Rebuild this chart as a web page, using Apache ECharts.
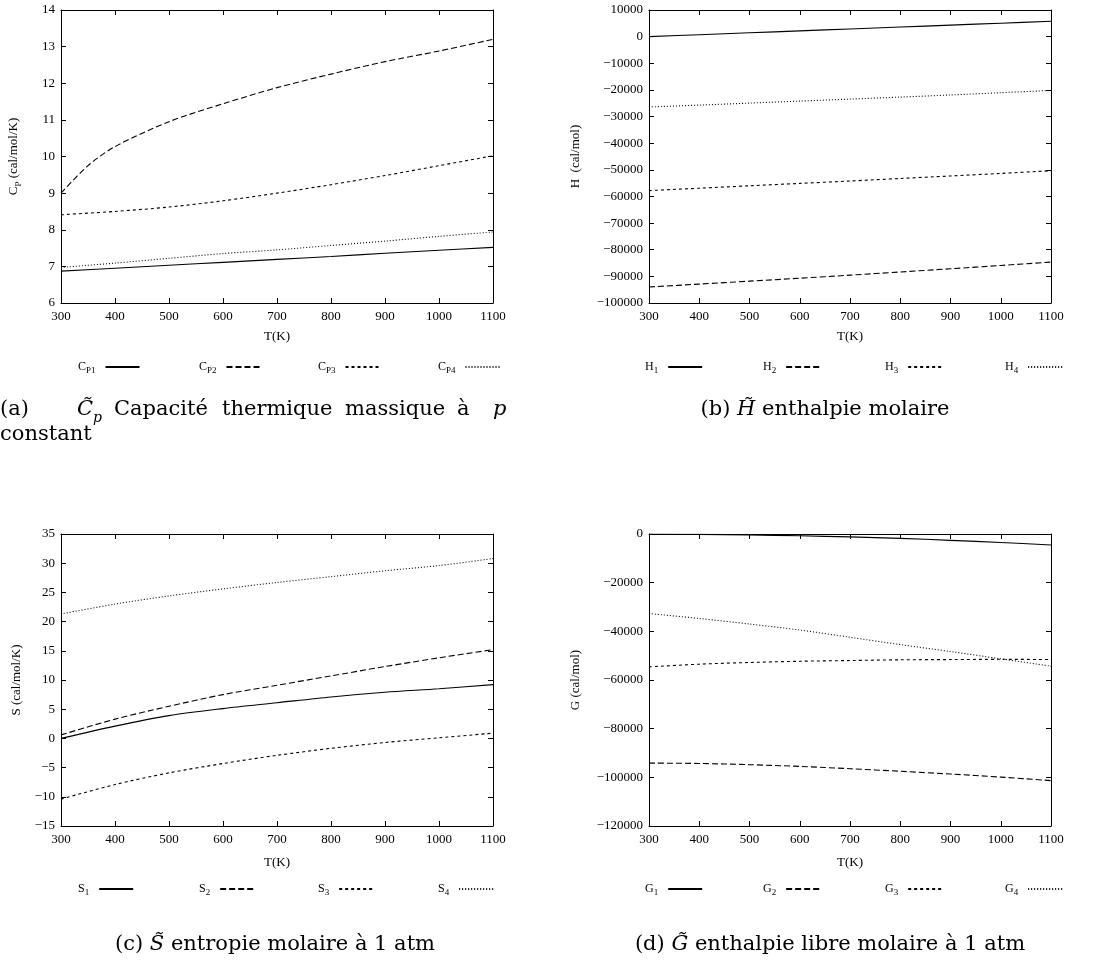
<!DOCTYPE html>
<html lang="fr">
<head>
    <meta charset="UTF-8">
    <title>Propriétés thermodynamiques</title>
    <style>
        html, body {margin: 0; padding: 0; background: #fff;}
        #main {width: 1100px; height: 970px;}
    </style>
    <script src="https://cdn.jsdelivr.net/npm/echarts@6/dist/echarts.min.js"></script>
</head>
<body>
<div id="main"></div>
<script>
    // temperatures (K)
    var temps = [300, 400, 500, 600, 700, 800, 900, 1000, 1100];
    var tempsCp2 = [300, 350, 400, 500, 600, 700, 800, 900, 1000, 1100];

    // (a) Cp, cal/mol/K
    var cp1 = [6.87, 6.95, 7.03, 7.11, 7.19, 7.27, 7.36, 7.44, 7.52];
    var cp2 = [9.0, 9.75, 10.27, 10.95, 11.44, 11.88, 12.25, 12.59, 12.88, 13.2];
    var cp3 = [8.41, 8.5, 8.62, 8.79, 9.0, 9.23, 9.48, 9.75, 10.02];
    var cp4 = [6.97, 7.09, 7.22, 7.35, 7.45, 7.57, 7.69, 7.82, 7.94];

    // (b) H, cal/mol
    var h1 = [0, 720, 1440, 2160, 2880, 3600, 4320, 5040, 5760];
    var h2 = [-94000, -92900, -91800, -90700, -89550, -88350, -87150, -85900, -84650];
    var h3 = [-57800, -56900, -56000, -55100, -54200, -53250, -52300, -51350, -50350];
    var h4 = [-26400, -25700, -24950, -24200, -23450, -22700, -21900, -21050, -20200];

    // (c) S, cal/mol/K
    var s1 = [0, 2.1, 3.9, 5.1, 6.1, 7.1, 7.9, 8.5, 9.2];
    var s2 = [0.6, 3.3, 5.5, 7.5, 9.1, 10.7, 12.3, 13.8, 15.2];
    var s3 = [-10.4, -7.9, -5.9, -4.3, -2.9, -1.7, -0.7, 0.1, 0.9];
    var s4 = [21.3, 23.0, 24.4, 25.6, 26.7, 27.7, 28.7, 29.6, 30.8];

    // (d) G, cal/mol
    var g1 = [0, -150, -400, -750, -1200, -1800, -2600, -3500, -4500];
    var g2 = [-94150, -94300, -94800, -95500, -96450, -97500, -98650, -99900, -101350];
    var g3 = [-54600, -53500, -52800, -52300, -52000, -51700, -51600, -51500, -51600];
    var g4 = [-32700, -34700, -37000, -39460, -42450, -45440, -48300, -51300, -54300];

    // axis ranges
    var yRanges = [
        {min: 6, max: 14, interval: 1},
        {min: -100000, max: 10000, interval: 10000},
        {min: -15, max: 35, interval: 5},
        {min: -120000, max: 0, interval: 20000}
    ];
    var yNames = ['{c|C}{s|P} (cal/mol/K)', 'H  (cal/mol)', 'S (cal/mol/K)', 'G (cal/mol)'];
    var legendNames = [
        ['Cp1', 'Cp2', 'Cp3', 'Cp4'],
        ['H1', 'H2', 'H3', 'H4'],
        ['S1', 'S2', 'S3', 'S4'],
        ['G1', 'G2', 'G3', 'G4']
    ];
    var legendLabels = {
        Cp1: '{c|C}{s|P1}', Cp2: '{c|C}{s|P2}', Cp3: '{c|C}{s|P3}', Cp4: '{c|C}{s|P4}',
        H1: '{c|H}{s|1}', H2: '{c|H}{s|2}', H3: '{c|H}{s|3}', H4: '{c|H}{s|4}',
        S1: '{c|S}{s|1}', S2: '{c|S}{s|2}', S3: '{c|S}{s|3}', S4: '{c|S}{s|4}',
        G1: '{c|G}{s|1}', G2: '{c|G}{s|2}', G3: '{c|G}{s|3}', G4: '{c|G}{s|4}'
    };

    var FONT = 'Liberation Serif';
    var CAP = 'DejaVu Serif';
    var CAP_SIZE = 21;
    var dashes = ['solid', [6, 3], [3, 3], [1, 2]];

    var grids = [
        {left: 61, top: 10, width: 432, height: 293},
        {left: 649, top: 10, width: 402, height: 293},
        {left: 61, top: 534, width: 432, height: 292},
        {left: 649, top: 534, width: 402, height: 292}
    ];
    var nameGaps = [38, 67, 38, 67];
    var xNameGaps = [27, 27, 30, 30];
    var legendTops = [361, 361, 883, 883];
    var legendLefts = [
        [78, 199, 318, 438],
        [645, 763, 885, 1005],
        [78, 199, 318, 438],
        [645, 763, 885, 1005]
    ];

    var rich = {
        c: {fontFamily: FONT, fontSize: 12, lineHeight: 16, verticalAlign: 'middle', color: '#000'},
        s: {fontFamily: FONT, fontSize: 9, lineHeight: 16, verticalAlign: 'bottom', color: '#000', padding: [0, 5, 0, 0]}
    };
    var nameRich = {
        c: {fontFamily: FONT, fontSize: 13, lineHeight: 18, verticalAlign: 'middle', color: '#000'},
        s: {fontFamily: FONT, fontSize: 9, lineHeight: 18, verticalAlign: 'bottom', color: '#000'}
    };

    function minus(v) {
        return String(v).replace('-', '\u2212');
    }

    var xAxes = [], yAxes = [], legends = [], series = [];
    grids.forEach(function (g, i) {
        var line = {onZero: false, lineStyle: {color: '#000', width: 1}};
        var tick = {show: true, inside: true, length: 5, lineStyle: {color: '#000'}};
        xAxes.push({
            type: 'value', gridIndex: i, min: 300, max: 1100, interval: 100,
            name: 'T(K)', nameLocation: 'middle', nameGap: xNameGaps[i],
            nameTextStyle: {fontFamily: FONT, fontSize: 13, color: '#000'},
            axisLine: line, axisTick: tick,
            axisLabel: {fontFamily: FONT, fontSize: 13, color: '#000', margin: 7, formatter: String},
            splitLine: {show: false}
        });
        xAxes.push({
            type: 'value', gridIndex: i, min: 300, max: 1100, interval: 100, position: 'top',
            axisLine: line, axisTick: tick,
            axisLabel: {show: false}, splitLine: {show: false}
        });
        var r = yRanges[i];
        yAxes.push({
            type: 'value', gridIndex: i, min: r.min, max: r.max, interval: r.interval,
            name: yNames[i], nameLocation: 'middle', nameGap: nameGaps[i], nameRotate: 90,
            nameTextStyle: {fontFamily: FONT, fontSize: 13, color: '#000', rich: nameRich},
            axisLine: {show: true, onZero: false, lineStyle: {color: '#000', width: 1}},
            axisTick: tick,
            axisLabel: {fontFamily: FONT, fontSize: 13, color: '#000', margin: 6, formatter: minus},
            splitLine: {show: false}
        });
        yAxes.push({
            type: 'value', gridIndex: i, min: r.min, max: r.max, interval: r.interval, position: 'right',
            axisLine: {show: true, onZero: false, lineStyle: {color: '#000', width: 1}},
            axisTick: tick,
            axisLabel: {show: false}, splitLine: {show: false}
        });
        legendNames[i].forEach(function (n, k) {
            legends.push({
                data: [n], left: legendLefts[i][k], top: legendTops[i],
                align: 'right', itemWidth: 34, itemHeight: 12, padding: 0,
                selectedMode: false,
                itemStyle: {opacity: 0},
                formatter: function (name) { return legendLabels[name]; },
                textStyle: {fontFamily: FONT, fontSize: 12, color: '#000', rich: rich}
            });
        });
    });

    var panelData = [
        [[temps, cp1], [tempsCp2, cp2], [temps, cp3], [temps, cp4]],
        [[temps, h1], [temps, h2], [temps, h3], [temps, h4]],
        [[temps, s1], [temps, s2], [temps, s3], [temps, s4]],
        [[temps, g1], [temps, g2], [temps, g3], [temps, g4]]
    ];
    panelData.forEach(function (sets, i) {
        sets.forEach(function (pair, k) {
            series.push({
                name: legendNames[i][k],
                type: 'line',
                xAxisIndex: 2 * i,
                yAxisIndex: 2 * i,
                data: pair[0].map(function (t, j) { return [t, pair[1][j]]; }),
                smooth: 0.3,
                showSymbol: false,
                symbol: 'none',
                animation: false,
                lineStyle: {color: '#000', width: 1.1, type: dashes[k]},
                itemStyle: {color: '#000'}
            });
        });
    });

    var capRich = {
        i: {fontFamily: CAP, fontStyle: 'italic', fontSize: CAP_SIZE, color: '#000'},
        s: {fontFamily: CAP, fontStyle: 'italic', fontSize: 14, color: '#000', verticalAlign: 'bottom', lineHeight: 30}
    };
    function caption(x, y, text, align) {
        return {
            type: 'text', x: x, y: y,
            style: {text: text, fontFamily: CAP, fontSize: CAP_SIZE, fill: '#000', rich: capRich,
                align: align || 'left', verticalAlign: 'middle'}
        };
    }

    var chart = echarts.init(document.getElementById('main'), null, {renderer: 'canvas'});
    chart.setOption({
        backgroundColor: '#fff',
        animation: false,
        grid: grids,
        xAxis: xAxes,
        yAxis: yAxes,
        legend: legends,
        series: series,
        graphic: [
            caption(0, 410, '(a)'),
            caption(77, 410, '{i|C\u0303}{s|p}'),
            caption(114, 410, 'Capacité'),
            caption(222, 410, 'thermique'),
            caption(345, 410, 'massique'),
            caption(457, 410, 'à'),
            caption(493, 410, '{i|p}'),
            caption(0, 435, 'constant'),
            caption(825, 410, '(b) {i|H\u0303} enthalpie molaire', 'center'),
            caption(275, 945, '(c) {i|S\u0303} entropie molaire à 1 atm', 'center'),
            caption(830, 945, '(d) {i|G\u0303} enthalpie libre molaire à 1 atm', 'center')
        ]
    });
</script>
</body>
</html>
